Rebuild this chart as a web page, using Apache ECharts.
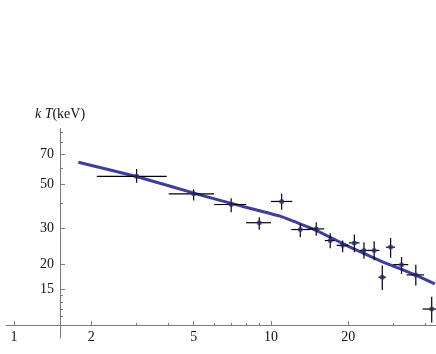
<!DOCTYPE html>
<html>
<head>
<meta charset="utf-8">
<script src="https://cdn.jsdelivr.net/npm/echarts@6/dist/echarts.min.js"></script>
<style>
html, body { margin: 0; padding: 0; background: #fff; }
#chart { width: 436px; height: 354px; }
</style>
</head>
<body>
<div id="chart"></div>
<script>
// measured points (energy in keV, with bin edges)
var energy   = [3.0, 5.0, 7.0, 9.0, 11.0, 13.0, 15.0, 17.0, 19.0, 21.1, 23.0, 25.2, 27.1, 29.2, 32.2, 36.6, 42.2];
var energyLo = [2.1, 4.0, 6.0, 8.0, 10.0, 12.0, 14.0, 16.2, 18.0, 20.1, 22.2, 23.9, 26.2, 28.0, 29.9, 33.7, 38.9];
var energyHi = [3.93, 6.0, 8.0, 10.0, 12.1, 14.2, 16.1, 17.7, 20.0, 22.1, 24.1, 26.4, 28.0, 30.4, 34.2, 39.4, 44.5];
// temperature kT (keV) with error range
var kT   = [54.5, 44.6, 39.5, 32.1, 40.9, 29.7, 29.9, 26.2, 24.8, 25.5, 23.4, 23.4, 17.25, 24.3, 19.9, 17.7, 12.0];
var kTLo = [50.6, 41.3, 36.2, 29.6, 37.2, 27.2, 27.7, 24.0, 22.9, 22.9, 21.3, 20.9, 14.9, 21.5, 17.9, 15.7, 10.3];
var kTHi = [59.3, 46.9, 42.4, 34.2, 44.6, 31.7, 32.3, 28.5, 26.2, 28.1, 25.7, 26.0, 19.7, 27.0, 21.7, 19.9, 13.8];

// model curve
var modelE  = [1.78, 3.02, 5.29, 7.0, 10.84, 12.9, 15.0, 20.3, 27.3, 36.8, 43.4];
var modelKT = [64.0, 54.2, 44.1, 40.0, 34.6, 31.8, 29.4, 24.3, 20.5, 17.6, 16.0];

// tick marks
var xMajorTicks = [1, 2, 5, 10, 20];
var xMinorTicks = [3, 4, 6, 7, 8, 9, 30, 40];
var yMajorTicks = [15, 20, 30, 50, 70];
var yMinorTicks = [10, 11, 12, 13, 14, 40, 60, 80, 90];

var lg = Math.log10;
var axisColor = '#7a7a7a';
var labelFont = { fontFamily: 'Liberation Serif', fontSize: 14, color: '#111' };

var chart = echarts.init(document.getElementById('chart'));

//
function fmtTick(v) {
	return String(Math.round(Math.pow(10, v)));
}

//
function renderErrorBar(params, api) {
	var l = api.coord([api.value(2), api.value(1)]);
	var r = api.coord([api.value(3), api.value(1)]);
	var b = api.coord([api.value(0), api.value(4)]);
	var t = api.coord([api.value(0), api.value(5)]);
	var style = { stroke: '#000', lineWidth: 1.2 };
	return {
		type: 'group',
		children: [
			{ type: 'line', shape: { x1: l[0], y1: l[1], x2: r[0], y2: r[1] }, style: style },
			{ type: 'line', shape: { x1: b[0], y1: b[1], x2: t[0], y2: t[1] }, style: style }
		]
	};
}

var barData = energy.map(function (e, i) {
	return [lg(e), lg(kT[i]), lg(energyLo[i]), lg(energyHi[i]), lg(kTLo[i]), lg(kTHi[i])];
});
var pointData = energy.map(function (e, i) { return [lg(e), lg(kT[i])]; });
var modelData = modelE.map(function (e, i) { return [lg(e), lg(modelKT[i])]; });

var xMin = -0.0311, xMax = 1.642;
var yMin = 0.9356, yMax = 1.973;

var option = {
	animation: false,
	grid: { left: 6, right: 0, top: 128.5, bottom: 16 },
	xAxis: [{
		type: 'value', min: xMin, max: xMax, position: 'bottom', offset: -13,
		axisLine: { show: true, lineStyle: { color: axisColor, width: 1 } },
		axisTick: { show: true, inside: true, length: 4, customValues: xMajorTicks.map(lg), lineStyle: { color: axisColor } },
		axisLabel: Object.assign({ customValues: xMajorTicks.map(lg), formatter: fmtTick, margin: 5 }, labelFont),
		splitLine: { show: false }
	}, {
		type: 'value', min: xMin, max: xMax, position: 'bottom', offset: -13,
		axisLine: { show: false },
		axisTick: { show: true, inside: true, length: 2, customValues: xMinorTicks.map(lg), lineStyle: { color: axisColor } },
		axisLabel: { show: false },
		splitLine: { show: false }
	}],
	yAxis: [{
		type: 'value', min: yMin, max: yMax, position: 'left', offset: -54,
		name: '{i|k T}(keV)', nameLocation: 'end', nameGap: 7,
		nameTextStyle: {
			fontFamily: 'Liberation Serif', fontSize: 14, color: '#111',
			rich: { i: { fontFamily: 'Liberation Serif', fontSize: 14, fontStyle: 'italic', color: '#111' } }
		},
		axisLine: { show: true, lineStyle: { color: axisColor, width: 1 } },
		axisTick: { show: true, inside: true, length: 5, customValues: yMajorTicks.map(lg), lineStyle: { color: axisColor } },
		axisLabel: Object.assign({ customValues: yMajorTicks.map(lg), formatter: fmtTick, margin: 6 }, labelFont),
		splitLine: { show: false }
	}, {
		type: 'value', min: yMin, max: yMax, position: 'left', offset: -54,
		axisLine: { show: false },
		axisTick: { show: true, inside: true, length: 3, customValues: yMinorTicks.map(lg), lineStyle: { color: axisColor } },
		axisLabel: { show: false },
		splitLine: { show: false }
	}],
	series: [{
		type: 'line',
		data: modelData,
		showSymbol: false,
		smooth: 0.1,
		lineStyle: { color: '#3d3d9e', width: 3 },
		z: 1
	}, {
		type: 'custom',
		data: barData,
		renderItem: renderErrorBar,
		encode: { x: 0, y: 1 },
		z: 2
	}, {
		type: 'scatter',
		data: pointData,
		symbolSize: 5,
		itemStyle: { color: '#2a2a78' },
		z: 3
	}]
};

chart.setOption(option);
</script>
</body>
</html>
